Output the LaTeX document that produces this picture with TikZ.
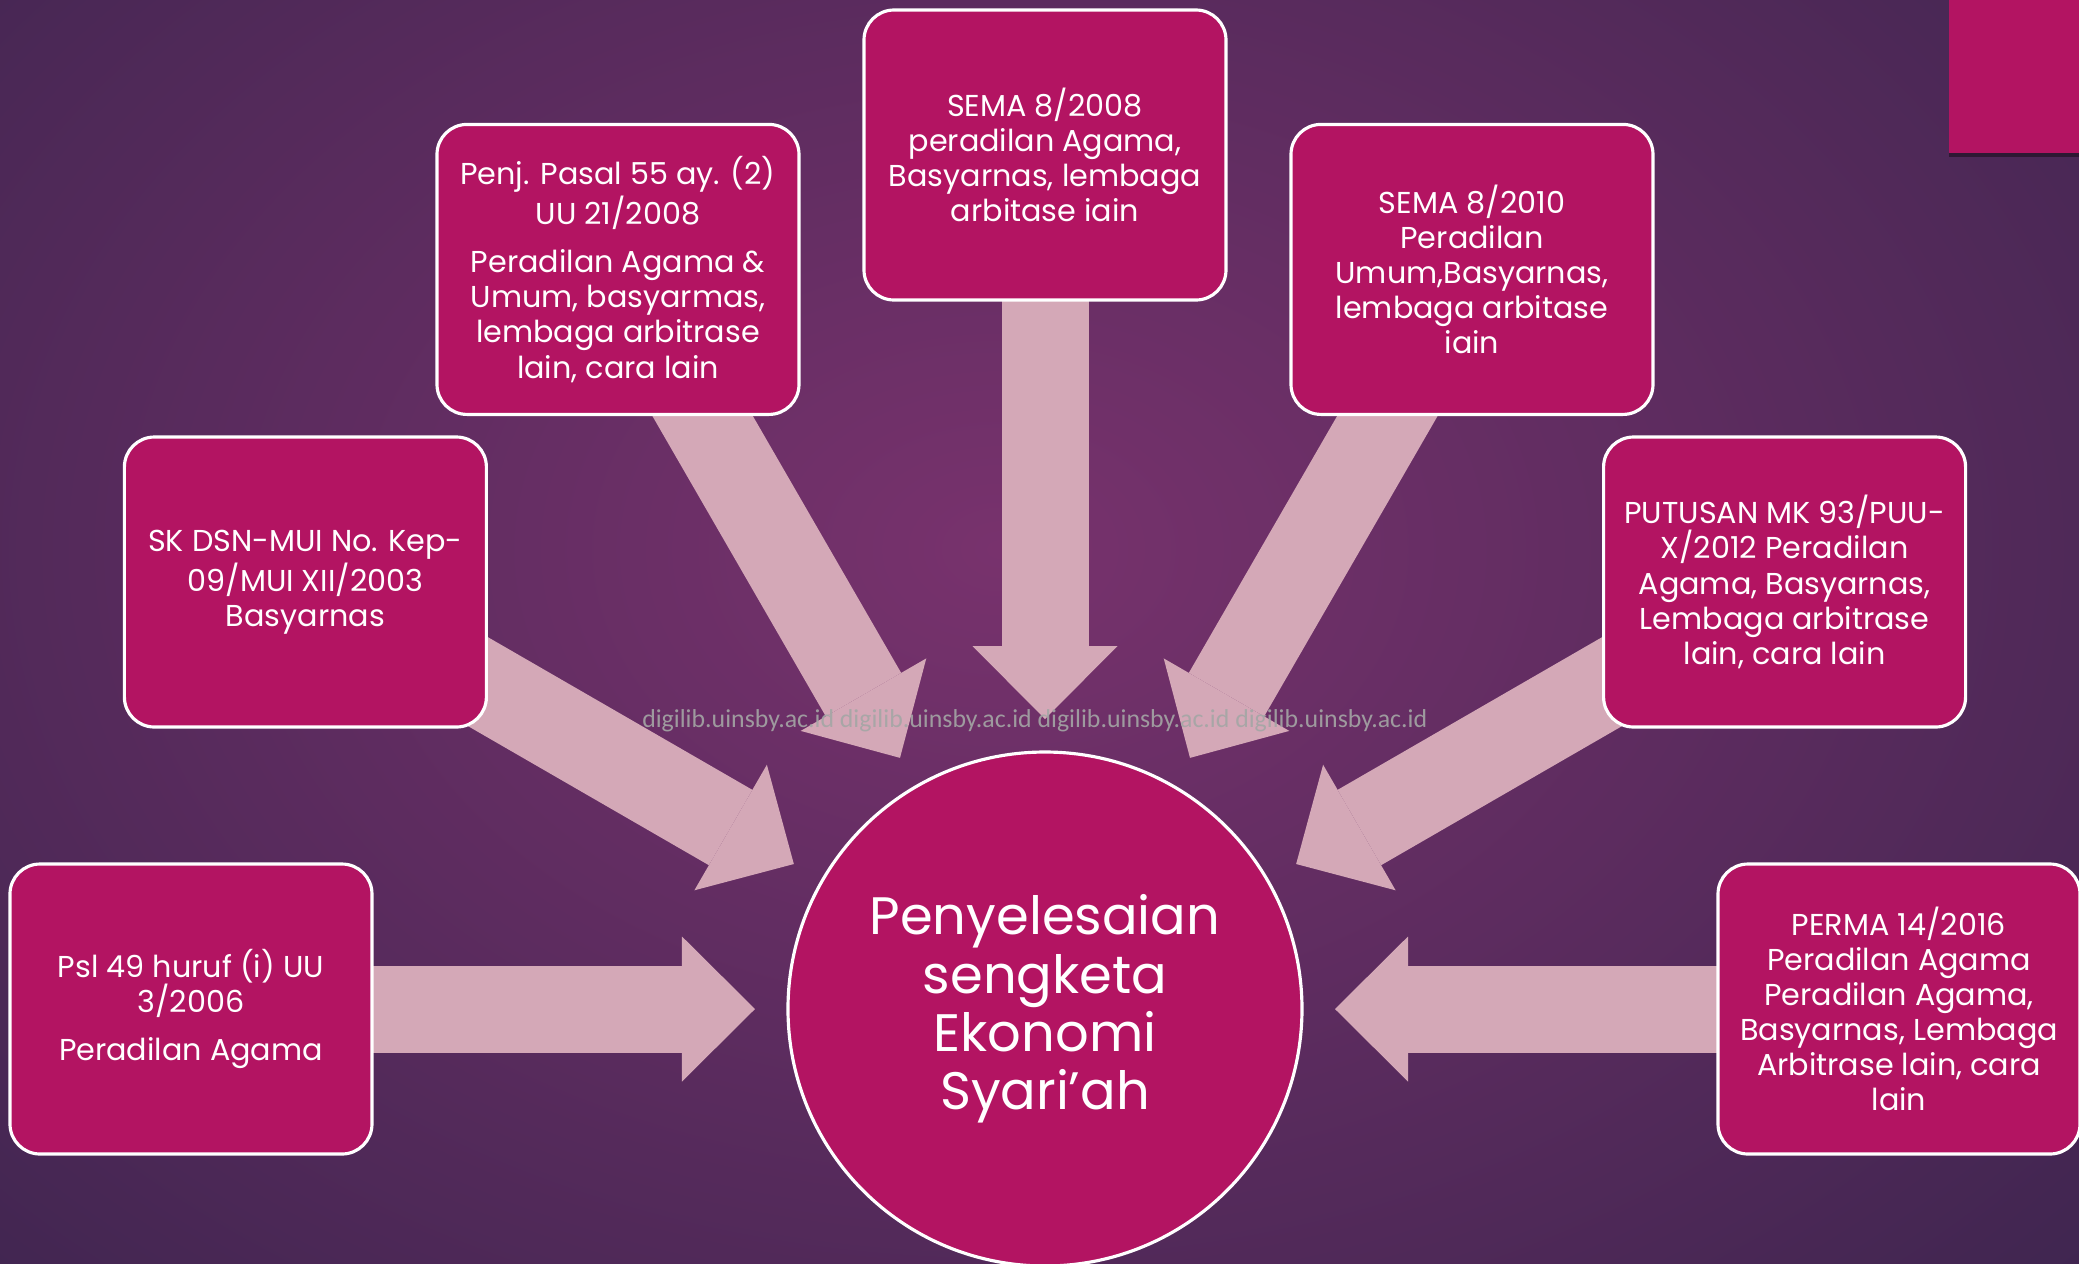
\documentclass[tikz,border=0pt]{standalone}
\usepackage{fontspec}
\setmainfont{Poppins}
\newfontfamily\wmfont{Carlito}
\usetikzlibrary{arrows.meta, shadows}

\definecolor{bgdark}{HTML}{282044}
\definecolor{bglight}{HTML}{78326D}
\definecolor{boxpink}{HTML}{B31462}
\definecolor{flowpink}{HTML}{D4A8B7}
\definecolor{wmgray}{HTML}{A4A6A5}

\pgfdeclarelayer{background}
\pgfdeclarelayer{flows}
\pgfsetlayers{background,flows,main}

\tikzset{
    srcbox/.style={draw=white, line width=0.9pt, fill=boxpink, text=white,
                   rounded corners=0.3cm, minimum width=3.62cm,
                   minimum height=2.9cm, align=center,
                   font=\fontsize{8.6}{10}\selectfont},
    hubnode/.style={circle, draw=white, line width=0.9pt, fill=boxpink,
                    text=white, minimum size=5.14cm, inner sep=0pt,
                    outer sep=0pt, align=center,
                    font=\fontsize{15}{16.6}\selectfont},
    flow/.style={flowpink, line width=0.87cm, shorten >=0.33cm,
                 -{Triangle[width=1.45cm, length=0.73cm, line width=0pt]}},
    wmark/.style={text=wmgray, text opacity=0.9,
                  font=\wmfont\fontsize{7.35}{8}\selectfont},
}

\begin{document}
\begin{tikzpicture}
    \useasboundingbox (-10.45,-2.54) rectangle (10.34,10.09);
    \begin{pgfonlayer}{background}
        \fill[bgdark] (-10.45,-2.54) rectangle (10.34,10.09);
        \begin{scope}
            \clip (-10.45,-2.54) rectangle (10.34,10.09);
            \shade[inner color=bglight, outer color=bgdark] (-0.45,4.6)
                ellipse (21cm and 15cm);
        \end{scope}
        \fill[boxpink, drop shadow={fill=black, opacity=0.4, shadow xshift=0cm,
              shadow yshift=-0.035cm}] (9.04,8.56) rectangle (10.34,10.09);
    \end{pgfonlayer}

    \node[hubnode] (hub) at (0,0) {Penyelesaian\\sengketa\\Ekonomi\\Syari’ah};
    \node[srcbox] (psl) at (180:8.54)
        {Psl 49 huruf (i) UU\\3/2006\\[0.13cm]Peradilan Agama};
    \node[srcbox] (skdsn) at (150:8.54)
        {SK DSN-MUI No. Kep-\\09/MUI XII/2003\\Basyarnas};
    \node[srcbox] (penj) at (120:8.54)
        {Penj. Pasal 55 ay. (2)\\UU 21/2008\\[0.13cm]Peradilan Agama \&\\
         Umum, basyarmas,\\lembaga arbitrase\\lain, cara lain};
    \node[srcbox] (sema08) at (90:8.54)
        {SEMA 8/2008\\peradilan Agama,\\Basyarnas, lembaga\\arbitase iain};
    \node[srcbox] (sema10) at (60:8.54)
        {SEMA 8/2010\\Peradilan\\Umum,Basyarnas,\\lembaga arbitase\\iain};
    \node[srcbox] (putusan) at (30:8.54)
        {PUTUSAN MK 93/PUU-\\X/2012 Peradilan\\Agama, Basyarnas,\\
         Lembaga arbitrase\\lain, cara lain};
    \node[srcbox] (perma) at (0:8.54)
        {PERMA 14/2016\\Peradilan Agama\\Peradilan Agama,\\
         Basyarnas, Lembaga\\Arbitrase lain, cara\\lain};

    \begin{pgfonlayer}{flows}
        \draw[flow] (psl.center) -- (hub);
        \draw[flow] (skdsn.center) -- (hub);
        \draw[flow] (penj.center) -- (hub);
        \draw[flow] (sema08.center) -- (hub);
        \draw[flow] (sema10.center) -- (hub);
        \draw[flow] (putusan.center) -- (hub);
        \draw[flow] (perma.center) -- (hub);
    \end{pgfonlayer}

    \node[wmark] (wm) at (-0.10,2.88) {digilib.uinsby.ac.id digilib.uinsby.ac.id
        digilib.uinsby.ac.id digilib.uinsby.ac.id};
\end{tikzpicture}
\end{document}
